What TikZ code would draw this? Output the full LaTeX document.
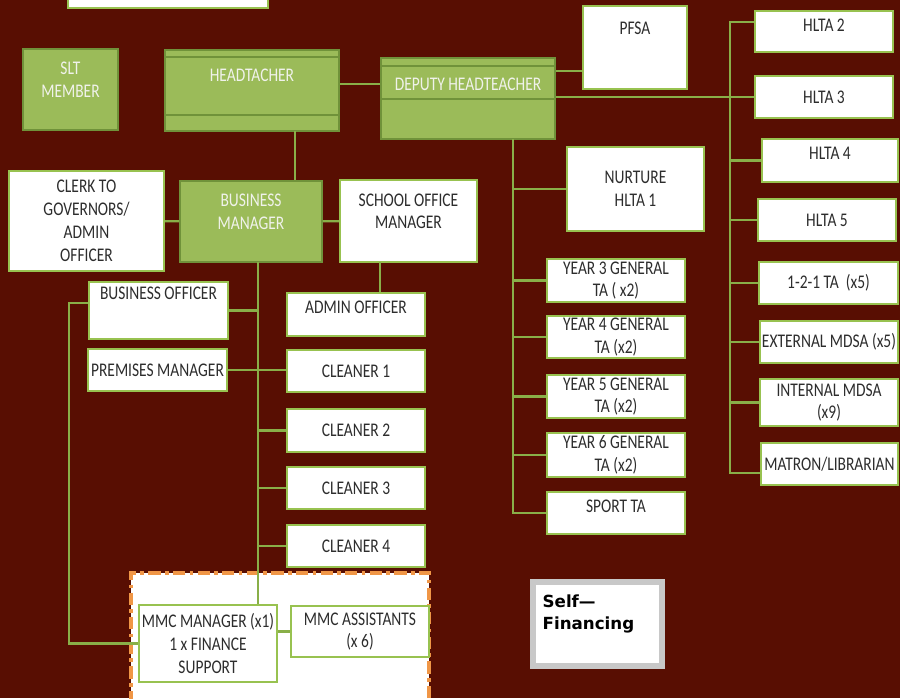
\documentclass[tikz,border=0pt]{standalone}
\usepackage{fontspec}
\setmainfont{Carlito}[FakeStretch=0.8]
\newfontfamily\notefont{DejaVu Sans}
\usetikzlibrary{positioning}

\definecolor{maroon}{RGB}{88,14,2}
\definecolor{leaf}{RGB}{155,187,89}
\definecolor{leafedge}{RGB}{152,194,80}
\definecolor{leafdark}{RGB}{112,146,58}
\definecolor{ink}{RGB}{45,45,45}
\definecolor{paletext}{RGB}{240,242,235}
\definecolor{dashorange}{RGB}{240,150,70}
\definecolor{greyedge}{RGB}{200,200,200}

\newcommand{\boxfont}{\fontsize{11}{13}\selectfont}

\tikzset{
	sized/.style 2 args={minimum width=#1*0.02cm, minimum height=#2*0.02cm},
	box/.style={draw=leafedge, line width=1.4pt, inner sep=0pt, align=center, font=\boxfont},
	wbox/.style={box, fill=white, text=ink},
	gbox/.style={box, fill=leaf, draw=leafdark, line width=1pt, text=paletext},
	wtop/.style={anchor=north, align=center, inner sep=0pt, font=\boxfont, text=ink},
	gtop/.style={wtop, text=paletext},
	mmcarea/.style={draw=dashorange, fill=white, line width=2pt, inner sep=0pt, dash pattern=on 7pt off 2.5pt on 2pt off 2.5pt},
	selfbox/.style={draw=greyedge, fill=white, line width=3.4pt, inner sep=0pt},
	link/.style={draw=leafedge!90!black, line width=1.2pt},
}

\begin{document}
\begin{tikzpicture}[x=0.02cm, y=-0.02cm]
	\clip (0,0) rectangle (900,698);
	\fill[maroon] (0,0) rectangle (900,698);
	\node[wbox, sized={200}{28}] (topbox) at (168,-6) {};
	\node[gbox, sized={95}{81}, label={[gtop,yshift=-7.6pt]north:SLT\\MEMBER}] (slt) at (70.5,89.5) {};
	\node[gbox, sized={174}{81}, label={[gtop,yshift=-11pt]north:HEADTACHER}] (head) at (252,90.5) {};
	\draw[leafdark, line width=1.2pt] (head.west |- 0,57) -- (head.east |- 0,57);
	\draw[leafdark, line width=1.2pt] (head.west |- 0,115) -- (head.east |- 0,115);
	\node[gbox, sized={174}{81}, label={[gtop,yshift=-11.6pt]north:DEPUTY HEADTEACHER}] (dep) at (468,98.5) {};
	\draw[leafdark, line width=1.2pt] (dep.west |- 0,66) -- (dep.east |- 0,66);
	\draw[leafdark, line width=1.2pt] (dep.west |- 0,99) -- (dep.east |- 0,99);
	\node[wbox, sized={104}{83}, label={[wtop,yshift=-9.8pt]north:PFSA}] (pfsa) at (635,47.5) {};

	\node[wbox, sized={138}{41}, label={[wtop,yshift=-4.8pt]north:HLTA 2}] (hlta2) at (824,31.5) {};
	\node[wbox, sized={138}{42}] (hlta3) at (824,97) {HLTA 3};
	\node[wbox, sized={136}{43}, label={[wtop,yshift=-5.3pt]north:HLTA 4}] (hlta4) at (830,160.5) {};
	\node[wbox, sized={138}{42}] (hlta5) at (827,220) {HLTA 5};
	\node[wbox, sized={139}{42}] (onetoone) at (828.5,283) {1-2-1 TA\ \ (x5)};
	\node[wbox, sized={138}{42}] (extmdsa) at (829,342) {EXTERNAL MDSA (x5)};
	\node[wbox, sized={138}{47}] (intmdsa) at (829,402.5) {INTERNAL MDSA\\(x9)};
	\node[wbox, sized={137}{42}] (matron) at (829.5,464) {MATRON/LIBRARIAN};

	\node[wbox, sized={137}{84}] (nurture) at (635.5,189) {NURTURE\\HLTA 1};
	\node[wbox, sized={138}{43}] (year3) at (616,280.5) {YEAR 3 GENERAL\\TA ( x2)};
	\node[wbox, sized={138}{42}] (year4) at (616,337) {YEAR 4 GENERAL\\TA (x2)};
	\node[wbox, sized={138}{43}] (year5) at (616,396.5) {YEAR 5 GENERAL\\TA (x2)};
	\node[wbox, sized={138}{44}] (year6) at (616,455) {YEAR 6 GENERAL\\TA (x2)};
	\node[wbox, sized={138}{42}, label={[wtop,yshift=-5.3pt]north:SPORT TA}] (sport) at (616,513) {};

	\node[gbox, sized={142}{81}, label={[gtop,yshift=-7.6pt]north:BUSINESS\\MANAGER}] (bm) at (251,221.5) {};
	\node[wbox, sized={155}{100}] (clerk) at (86.5,221) {CLERK TO\\GOVERNORS/\\ADMIN\\OFFICER};
	\node[wbox, sized={137}{82}, label={[wtop,yshift=-8.2pt]north:SCHOOL OFFICE\\MANAGER}] (som) at (408.5,221) {};
	\node[wbox, sized={138}{43}, label={[wtop,yshift=-4.8pt]north:ADMIN OFFICER}] (admin) at (356,314.5) {};
	\node[wbox, sized={139}{57}, label={[wtop,yshift=-3.6pt]north:BUSINESS OFFICER}] (bo) at (158.5,310.5) {};
	\node[wbox, sized={139}{42}] (prem) at (157.5,370) {PREMISES MANAGER};
	\node[wbox, sized={138}{42}] (cl1) at (356,371) {CLEANER 1};
	\node[wbox, sized={138}{43}] (cl2) at (356,430.5) {CLEANER 2};
	\node[wbox, sized={138}{42}] (cl3) at (356,488) {CLEANER 3};
	\node[wbox, sized={138}{42}] (cl4) at (356,546) {CLEANER 4};

	\node[mmcarea, sized={298}{147}] (mmc) at (280,646.5) {};
	\node[wbox, sized={138}{77}] (mmcman) at (208,643.5) {MMC MANAGER (x1)\\1 x FINANCE\\SUPPORT};
	\node[wbox, sized={138}{51}] (mmcass) at (360,631.5) {MMC ASSISTANTS\\(x 6)};

	\node[selfbox, sized={129}{84}, label={[anchor=north west, xshift=7pt, yshift=-8.7pt, align=left, inner sep=0pt, font=\notefont\bfseries\fontsize{9.5}{12.5}\selectfont]north west:Self—\\Financing}] (self) at (597.5,624) {};

	\draw[link] ([yshift=3.7pt]head.east) -- ([yshift=3.7pt]head.east -| dep.west);
	\draw[link] ([yshift=15.6pt]dep.east) -- ([yshift=15.6pt]dep.east -| pfsa.west);
	\draw[link] (dep.east |- hlta3) -- (hlta3);
	\coordinate (rtop) at (730,22);
	\coordinate (rbot) at (730,473);
	\draw[link] (hlta2.west |- rtop) -- (rtop) -- (rbot) -- (matron.west |- rbot);
	\foreach \n in {hlta4,hlta5,onetoone,extmdsa,intmdsa} \draw[link] (rtop |- \n) -- (\n);
	\coordinate (dbus) at (513,139);
	\draw[link] (dbus) |- (sport);
	\foreach \n in {nurture,year3,year4,year5,year6} \draw[link] (dbus |- \n) -- (\n);

	\coordinate (hdrop) at (295,131);
	\draw[link] (hdrop) -- (hdrop |- bm.north);
	\draw[link] (clerk) -- (bm);
	\draw[link] (bm) -- (som);
	\coordinate (sdrop) at (380,262);
	\draw[link] (sdrop) -- (sdrop |- admin.north);
	\coordinate (bbus) at (258,262);
	\draw[link] (bbus) -- (bbus |- mmcman.north);
	\draw[link] (bo) -- (bbus |- bo);
	\draw[link] (prem) -- (prem -| cl1.west);
	\foreach \n in {cl2,cl3,cl4} \draw[link] (bbus |- \n) -- (\n);
	\draw[link] ([yshift=4.3pt]bo.west) -- ++(-19,0) |- (mmcman);
	\draw[link] (mmcass.west) -- (mmcass.west -| mmcman.east);
\end{tikzpicture}
\end{document}
